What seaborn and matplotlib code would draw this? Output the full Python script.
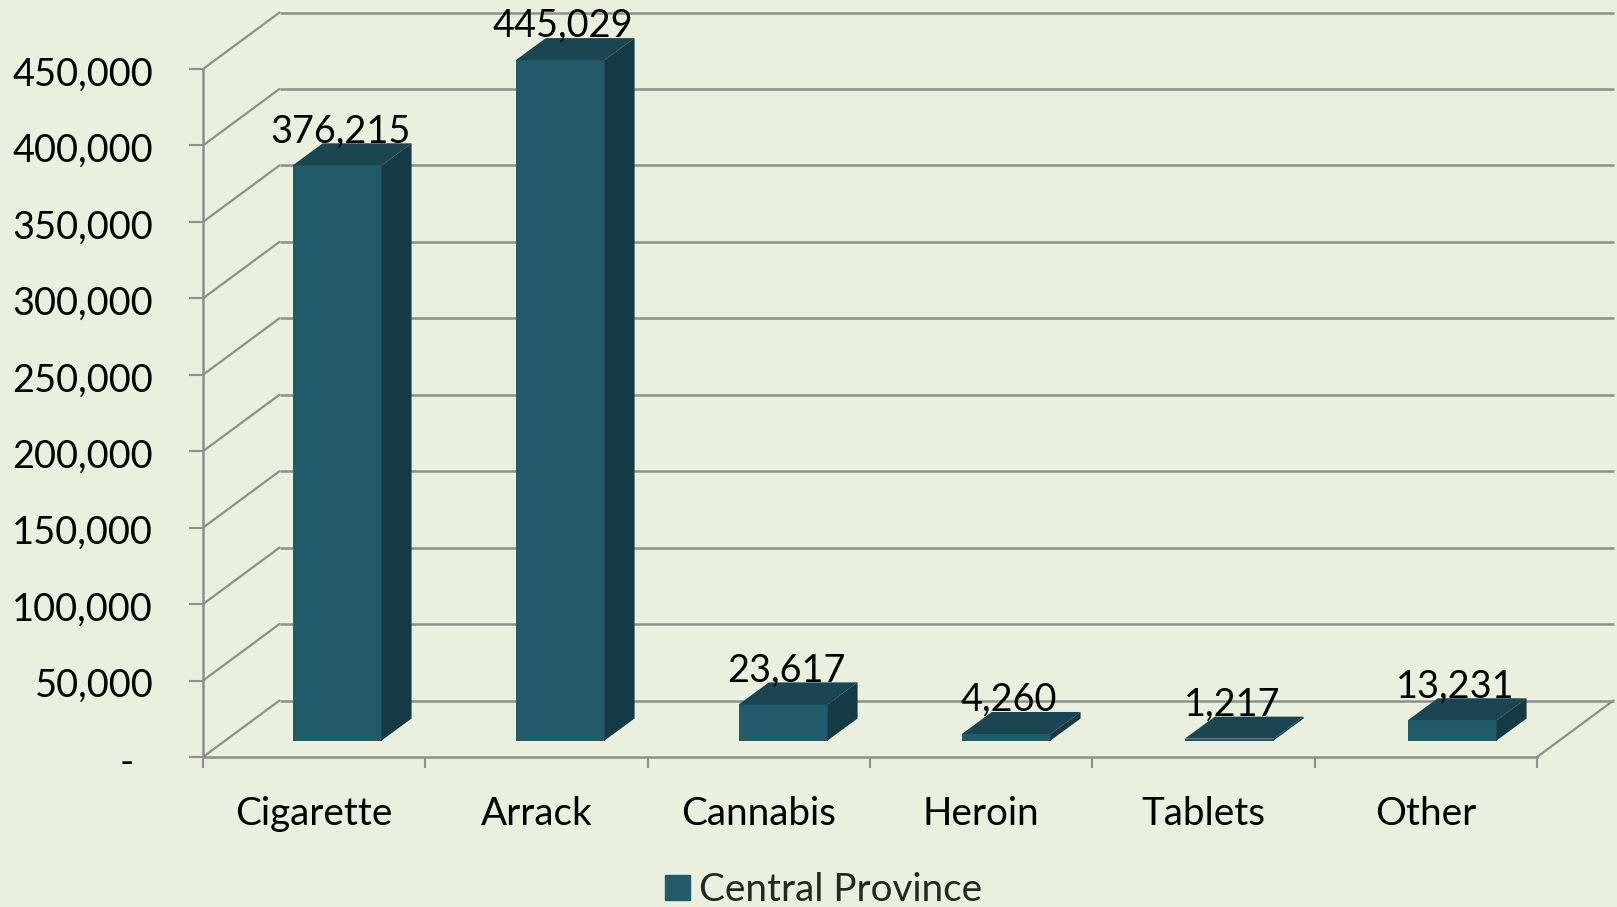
import pandas as pd
import matplotlib
matplotlib.use('Agg')
import matplotlib.pyplot as plt
import seaborn as sns
from matplotlib.patches import Patch, Polygon
from matplotlib.transforms import Affine2D, IdentityTransform

# values
substances = ['Cigarette', 'Arrack', 'Cannabis', 'Heroin', 'Tablets', 'Other']
counts = [376215, 445029, 23617, 4260, 1217, 13231]
y_ticks = [0, 50000, 100000, 150000, 200000, 250000, 300000, 350000, 400000, 450000]
y_labels = ['-  ', '50,000', '100,000', '150,000', '200,000', '250,000',
            '300,000', '350,000', '400,000', '450,000']
series_name = 'Central Province'

BG = '#EBEFDE'
GRID = '#8F8F8F'
FRONT = '#215A69'
TOP = '#1B4550'
SIDE = '#163A45'

sns.set_theme(style='white')
plt.rcParams['font.family'] = ['Lato', 'DejaVu Sans']

W, H = 1617, 907
fig = plt.figure(figsize=(W / 100, H / 100), dpi=100, facecolor=BG)

# front plane of the fake 3d box, in pixels
L, R, B, T = 203, 1537, 150, 838
BACK_DX, BACK_DY = 76.5, 56.5      # floor depth
BAR_DX, BAR_DY = 22.7, 16.5        # where the bars stand on the floor
SIDE_DX, SIDE_DY = 30, 22          # bar depth
FS = 27.8
FS_Y = 27.4
FS_VALUE = 27.3

ax = fig.add_axes([L / W, B / H, (R - L) / W, (T - B) / H], facecolor='none')
ax.set_xlim(-0.5, 5.5)
ax.set_ylim(0, 450000)

# walls
back = ax.transData + Affine2D().translate(BACK_DX, BACK_DY)
px = IdentityTransform()
for v in y_ticks:
    ax.plot([-0.5, 5.5], [v, v], color=GRID, lw=1.8, transform=back, clip_on=False, solid_capstyle='butt')
    x0, y0 = ax.transData.transform((-0.5, v))
    ax.plot([x0, x0 + BACK_DX], [y0, y0 + BACK_DY], color=GRID, lw=1.6, transform=px, clip_on=False)
x0, y0 = ax.transData.transform((5.5, 0))
ax.plot([x0, x0 + BACK_DX], [y0, y0 + BACK_DY], color=GRID, lw=1.6, transform=px, clip_on=False)

sns.despine(ax=ax)
for s in ['left', 'bottom']:
    ax.spines[s].set_color(GRID)
    ax.spines[s].set_linewidth(1.8)

ax.set_yticks(y_ticks)
ax.set_yticklabels(y_labels, fontsize=FS_Y, color='black')
ax.tick_params(axis='y', length=10.4, width=1.5, color=GRID, pad=25.5, left=True)
for lab in ax.get_yticklabels():
    lab.set_transform(lab.get_transform() + Affine2D().translate(0, -2))
ax.set_xticks(range(len(substances)))
ax.set_xticklabels(substances, fontsize=FS, color='black')
ax.set_xticks([i - 0.5 for i in range(len(substances) + 1)], minor=True)
ax.tick_params(axis='x', which='major', length=0, pad=28)
ax.tick_params(axis='x', which='minor', length=8.2, width=1.5, color=GRID, bottom=True)

# bars sit on their own axes, shifted back onto the floor
ax_bars = fig.add_axes([(L + BAR_DX) / W, (B + BAR_DY) / H, 1338 / W, (T - B) / H], facecolor='none')
df = pd.DataFrame({'substance': substances, 'count': counts})
sns.barplot(data=df, x='substance', y='count', color=FRONT, saturation=1, width=0.398,
            linewidth=0, ax=ax_bars)
ax_bars.set_xlim(-0.5, 5.5)
ax_bars.set_ylim(0, 450000)
ax_bars.set_axis_off()

for bar, c in zip(list(ax_bars.patches), counts):
    xa, xb = bar.get_x(), bar.get_x() + bar.get_width()
    (px0, py0), (px1, py1) = ax_bars.transData.transform([(xa, 0), (xb, bar.get_height())])
    side = [(px1, py0), (px1 + SIDE_DX, py0 + SIDE_DY), (px1 + SIDE_DX, py1 + SIDE_DY), (px1, py1)]
    top = [(px0, py1), (px0 + SIDE_DX, py1 + SIDE_DY), (px1 + SIDE_DX, py1 + SIDE_DY), (px1, py1)]
    ax_bars.add_patch(Polygon(side, closed=True, fc=SIDE, ec='none', transform=px, clip_on=False))
    ax_bars.add_patch(Polygon(top, closed=True, fc=TOP, ec='none', transform=px, clip_on=False))
    ax_bars.annotate(f'{c:,}', xy=((xa + xb) / 2, bar.get_height()), xytext=(3, SIDE_DY + 1),
                     textcoords='offset pixels', ha='center', va='baseline',
                     fontsize=FS_VALUE, color='black', annotation_clip=False)

fig.legend(handles=[Patch(color=FRONT, label=series_name)], loc='center',
           bbox_to_anchor=(823.5 / W, 17 / H), frameon=False, fontsize=FS,
           handlelength=0.64, handleheight=0.64, handletextpad=0.22,
           borderpad=0, borderaxespad=0)

fig.savefig('out.png', dpi=100, facecolor=BG)
